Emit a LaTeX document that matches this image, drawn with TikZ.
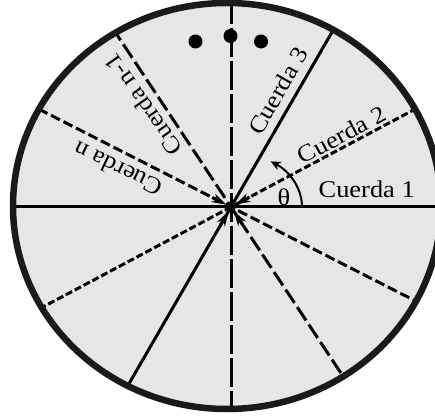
\documentclass[tikz,border=0pt]{standalone}
\usepackage{fontspec}
\setmainfont{Liberation Serif}[FakeStretch=1.1]
\usetikzlibrary{arrows.meta,calc}
\definecolor{DiscGray}{HTML}{E6E6E6}
\definecolor{RimBlack}{HTML}{1A1A1A}
\tikzset{
  chord/.style={line width=3pt},
  hubtip/.style={line width=3pt,-{Stealth[length=15pt,width=9pt]}},
  chordlabel/.style={font=\fontsize{24}{28}\selectfont,inner sep=0pt}
}

\begin{document}
\begin{tikzpicture}[x=1pt,y=1pt,line join=round]
  \useasboundingbox (0,0) rectangle (435,417);
  \coordinate (hub) at (231,210);
  \coordinate (disc) at (227,211);
  \fill[DiscGray] (disc) ellipse [x radius=214,y radius=203];
  % the chords, cut at the rim
  \begin{scope}
    \clip (disc) ellipse [x radius=214,y radius=203];
    \draw[chord] ($(hub)+(0:300)$) -- ($(hub)+(180:300)$);
    \draw[chord,dash pattern=on 7pt off 3pt] ($(hub)+(28:300)$) -- ($(hub)+(208:300)$);
    \draw[chord] ($(hub)+(60:300)$) -- ($(hub)+(240:300)$);
    \draw[chord,dash pattern=on 29pt off 4pt,dash phase=11pt] ($(hub)+(90:300)$) -- ($(hub)+(270:300)$);
    \draw[chord,dash pattern=on 16pt off 5pt] ($(hub)+(123.5:300)$) -- ($(hub)+(303.5:300)$);
    \draw[chord,dash pattern=on 10pt off 4pt] ($(hub)+(153:300)$) -- ($(hub)+(333:300)$);
  \end{scope}
  \draw[RimBlack,line width=6.5pt] (disc) ellipse [x radius=214,y radius=203];
  % marks at the hub
  \foreach \a in {28,153,240,303.5}
    \draw[hubtip] ($(hub)+(\a:21)$) -- ($(hub)+(\a:5)$);
  \fill (hub) circle (5);
  % angle
  \draw[line width=2pt,-{Stealth[length=10pt,width=9pt]}]
    ($(hub)+(71,0)$) arc [start angle=0,end angle=56,x radius=71,y radius=55];
  \node[chordlabel] (theta) at (284,219.5) {θ};
  % dots
  \fill (195.5,375.5) circle (7);
  \fill (230.5,381) circle (7);
  \fill (261,375.5) circle (7);
  % labels
  \node[chordlabel,anchor=base] (c1) at (366.7,219) {Cuerda 1};
  \node[chordlabel,rotate=28] (c2) at (341.5,282) {Cuerda 2};
  \node[chordlabel,rotate=60] (c3) at (278,326) {Cuerda 3};
  \node[chordlabel,rotate=125] (cn1) at (143,312.5) {Cuerda n-1};
  \node[chordlabel,rotate=154] (cn) at (118,248) {Cuerda n};
\end{tikzpicture}
\end{document}
